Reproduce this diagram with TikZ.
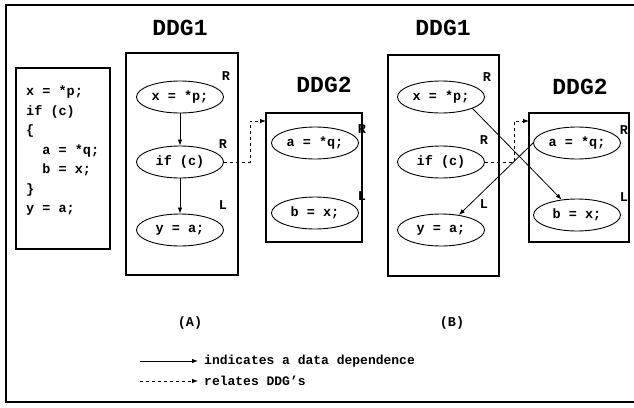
\documentclass[tikz,border=0pt]{standalone}
\usepackage{fontspec}
\setmainfont{Liberation Mono}
\setmonofont{Liberation Mono}
\usetikzlibrary{arrows.meta,shapes.geometric}
\tikzset{
  every node/.style={font=\bfseries\fontsize{13}{15}\selectfont, inner sep=0pt},
  frame/.style={draw, line width=1.1pt},
  stmt/.style={draw, ellipse, line width=0.9pt, minimum width=87pt, minimum height=32pt,
    font=\bfseries\fontsize{13.5}{15}\selectfont},
  title/.style={font=\bfseries\fontsize{23}{26}\selectfont},
  side/.style={font=\bfseries\fontsize{13.5}{15}\selectfont},
  dep/.style={draw, line width=0.8pt, -{Latex[length=6pt,width=4.5pt]}},
  rel/.style={draw, line width=0.8pt, dash pattern=on 3pt off 3pt, -{Latex[length=6pt,width=4.5pt]}},
}
\begin{document}
\begin{tikzpicture}[x=1pt,y=-1pt]
\useasboundingbox (0,0) rectangle (634,407);
\draw[line width=1.1pt] (640,5) -- (6,5) -- (6,402) -- (640,402);
% code box
\draw[frame] (16,68) rectangle (110,249);
\node[anchor=north west, align=left, font=\bfseries\fontsize{13.5}{19.5}\selectfont] (code) at (26,86)
 {x = *p;\\ if (c)\\ \{\\ \ \ a = *q;\\ \ \ b = x;\\ \}\\ y = a;};
% ---------- (A)
\node[title] (t1a) at (180,28) {DDG1};
\draw[frame] (126,53) rectangle (238,275);
\node[stmt] (xa) at (180,97) {x = *p;};
\node[stmt] (ca) at (180,162) {if (c)};
\node[stmt] (ya) at (180,230) {y = a;};
\node[side] (r1a) at (226,76) {R};
\node[side] (r2a) at (223,144) {R};
\node[side] (l1a) at (223,205) {L};
\draw[dep] (xa) -- (ca);
\draw[dep] (ca) -- (ya);
\node[title] (t2a) at (324,85) {DDG2};
\draw[frame] (266,113) rectangle (362,242);
\coordinate (ina) at (266,121);
\node[stmt] (qa) at (315,143) {a = *q;};
\node[stmt] (ba) at (315,213) {b = x;};
\node[side] (r3a) at (362,129) {R};
\node[side] (l2a) at (362,196) {L};
\draw[rel] (ca.east) -- (250,162) -- (250,121) -- (ina);
% ---------- (B)
\node[title] (t1b) at (443,28) {DDG1};
\draw[frame] (388,55) rectangle (499,276);
\node[stmt] (xb) at (441,97) {x = *p;};
\node[stmt] (cb) at (441,162) {if (c)};
\node[stmt] (yb) at (441,230) {y = a;};
\node[side] (r1b) at (487,77) {R};
\node[side] (r2b) at (484,140) {R};
\node[side] (l1b) at (484,204) {L};
\node[title] (t2b) at (580,87) {DDG2};
\draw[frame] (529,113) rectangle (629,242);
\coordinate (inb) at (529,121);
\node[stmt] (qb) at (577,143) {a = *q;};
\node[stmt] (bb) at (577,215) {b = x;};
\node[side] (r3b) at (624,130) {R};
\node[side] (l2b) at (624,197) {L};
\draw[rel] (cb.east) -- (514,162) -- (514,121) -- (inb);
\draw[dep] (xb.-20) -- (bb.135);
\draw[dep] (qb.west) -- (yb.40);
% ---------- bottom
\node[side] (la) at (190,323) {(A)};
\node[side] (lb) at (452,323) {(B)};
\coordinate (s1) at (140,361);
\coordinate (s2) at (198,361);
\coordinate (d1) at (140,381);
\coordinate (d2) at (198,381);
\draw[dep] (s1) -- (s2);
\draw[rel] (d1) -- (d2);
\node[anchor=west] (tx1) at (204,361) {indicates a data dependence};
\node[anchor=west] (tx2) at (204,381) {relates DDG's};
\end{tikzpicture}
\end{document}
